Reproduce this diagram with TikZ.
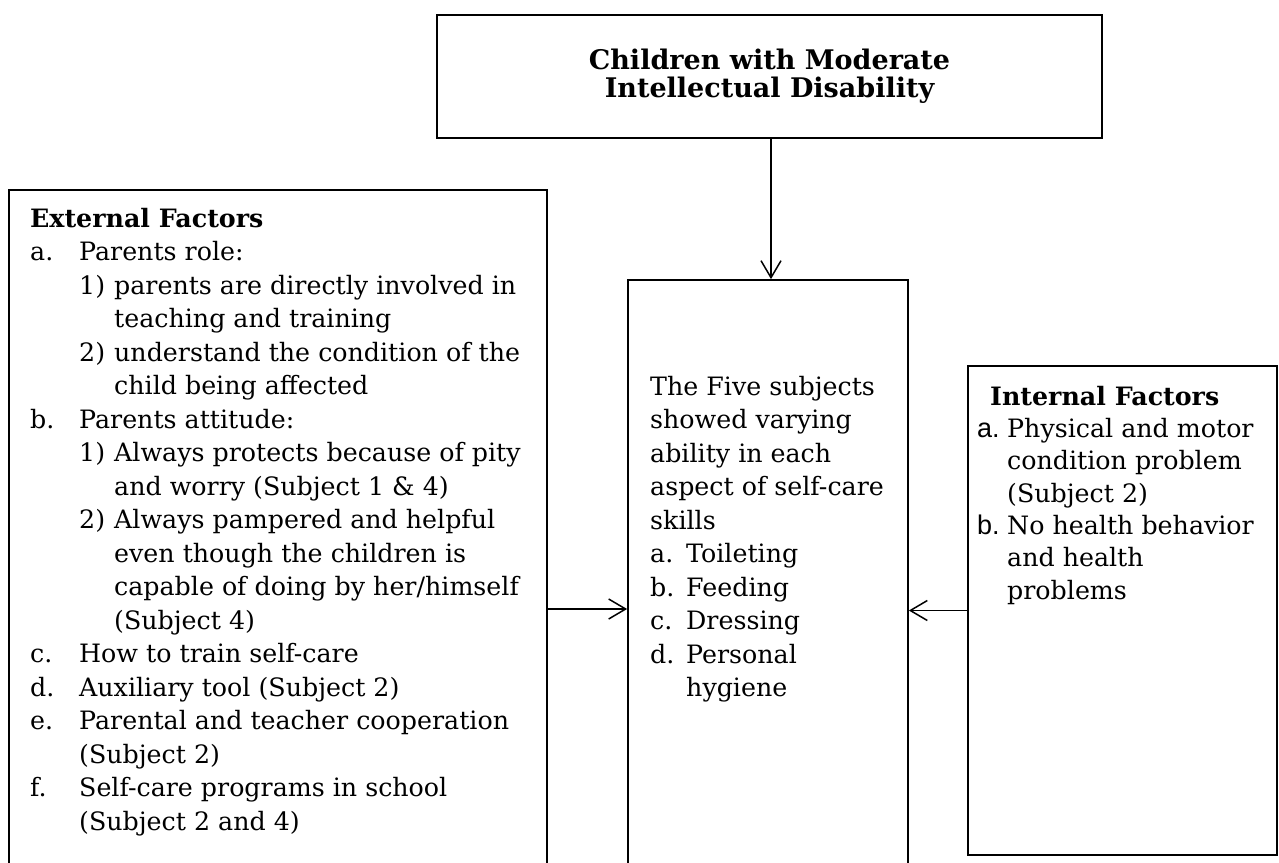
\documentclass[tikz,border=0pt]{standalone}
\usepackage{fontspec}
\setmainfont{DejaVu Serif}
\newfontfamily\arialfont{Liberation Sans}
\usetikzlibrary{arrows.meta}

\tikzset{
  frame/.style={draw, line width=1.7pt, inner sep=0pt},
  listtext/.style={align=left, inner sep=0pt, anchor=north west,
    font=\fontsize{25.3}{33.5}\selectfont},
  link/.style={line width=1.5pt, -{Straight Barb[length=17pt,width=20pt,line width=1.5pt]}}
}
\newcommand{\lab}[2]{\makebox[#1][l]{#2}}

\begin{document}
\begin{tikzpicture}[x=1pt,y=-1pt]
    \useasboundingbox (0,0) rectangle (1279,862);
    \clip (0,0) rectangle (1279,862);
    % boxes
    \node[frame, minimum width=665pt, minimum height=123pt, align=center,
      font=\fontsize{27}{28}\selectfont\bfseries] (title) at (769.5,76.5)
      {Children with Moderate\\Intellectual Disability};
    \node[frame, minimum width=538pt, minimum height=838pt] (ext) at (278,609) {};
    \node[frame, minimum width=280pt, minimum height=658pt] (skills) at (768,609) {};
    \node[frame, minimum width=309pt, minimum height=489pt] (intl) at (1122.5,610.5) {};
    % texts
    \node[listtext] (exttext) at (30,203.5) {\strut\textbf{External Factors}\\
      \lab{49pt}{a.}Parents role:\\
      \hspace*{49pt}\lab{35pt}{1)}parents are directly involved in\\
      \hspace*{84pt}teaching and training\\
      \hspace*{49pt}\lab{35pt}{2)}understand the condition of the\\
      \hspace*{84pt}child being affected\\
      \lab{49pt}{b.}Parents attitude:\\
      \hspace*{49pt}\lab{35pt}{1)}Always protects because of pity\\
      \hspace*{84pt}and worry (Subject 1 \& 4)\\
      \hspace*{49pt}\lab{35pt}{2)}Always pampered and helpful\\
      \hspace*{84pt}even though the children is\\
      \hspace*{84pt}capable of doing by her/himself\\
      \hspace*{84pt}(Subject 4)\\
      \lab{49pt}{c.}How to train self-care\\
      \lab{49pt}{d.}Auxiliary tool (Subject 2)\\
      \lab{49pt}{e.}Parental and teacher cooperation\\
      \hspace*{49pt}(Subject 2)\\
      \lab{49pt}{f.}Self-care programs in school\\
      \hspace*{49pt}(Subject 2 and 4)};
    \node[listtext] (skilltext) at (650,371.5) {\strut The Five subjects\\
      showed varying\\
      ability in each\\
      aspect of self-care\\
      skills\\
      \lab{36pt}{a.}Toileting\\
      \lab{36pt}{b.}Feeding\\
      \lab{36pt}{c.}Dressing\\
      \lab{36pt}{d.}Personal\\
      \hspace*{36pt}hygiene};
    \node[listtext, font=\fontsize{25.3}{32.3}\selectfont] (intltext) at (977,382.4)
      {\strut\hspace*{13pt}\textbf{Internal Factors}\\
      \lab{30pt}{\arialfont\fontsize{27}{32.3}\selectfont a.}Physical and motor\\
      \hspace*{30pt}condition problem\\
      \hspace*{30pt}(Subject 2)\\
      \lab{30pt}{\arialfont\fontsize{27}{32.3}\selectfont b.}No health behavior\\
      \hspace*{30pt}and health\\
      \hspace*{30pt}problems};
    % arrows
    \draw[link] (title.south -| 771,0) -- (skills.north -| 771,0);
    \draw[link] (ext.east) -- (skills.west);
    \draw[link] (intl.west) -- (intl.west -| skills.east);
\end{tikzpicture}
\end{document}
